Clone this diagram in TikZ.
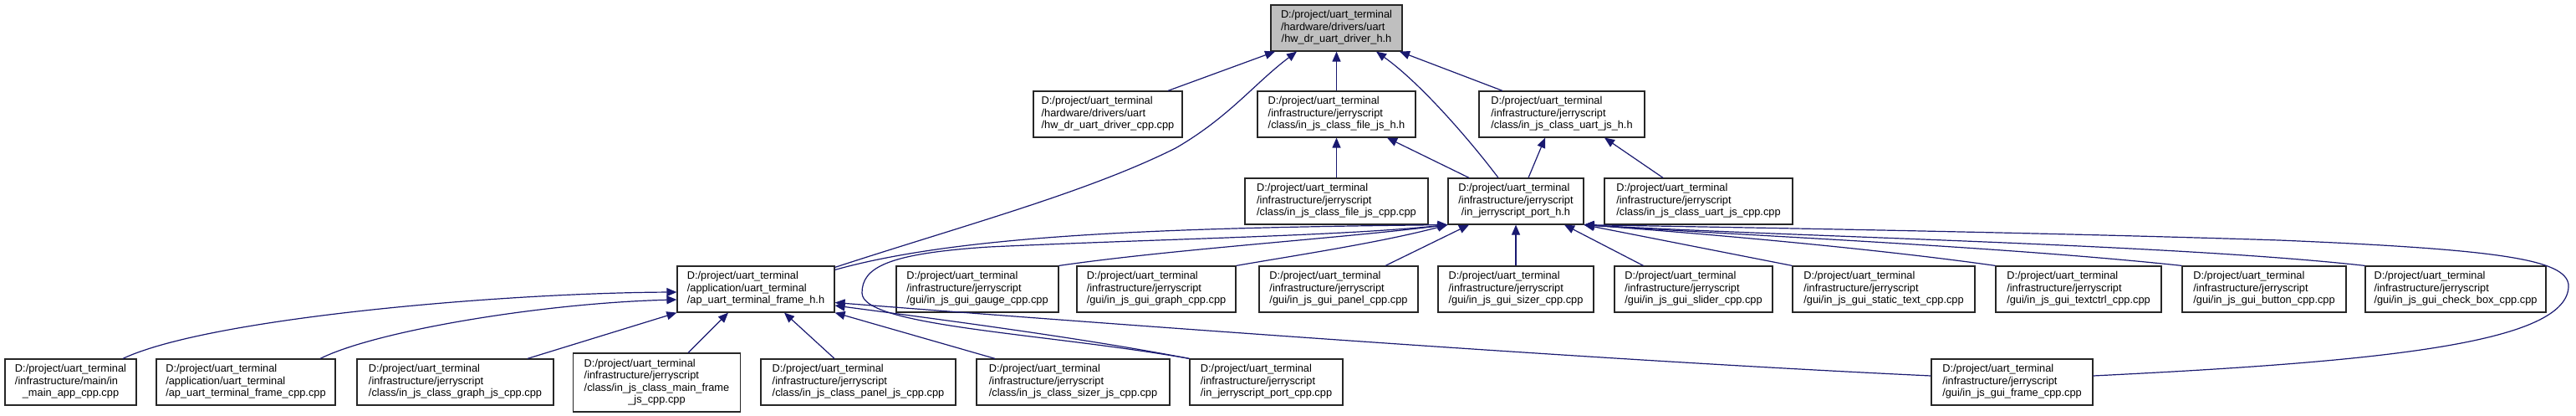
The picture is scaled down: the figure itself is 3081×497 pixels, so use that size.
\documentclass[tikz,border=0pt]{standalone}
\usepackage{fontspec}
\setmainfont{Liberation Sans}
\usetikzlibrary{calc,arrows.meta}
\definecolor{mblue}{RGB}{25,25,112}
\definecolor{rootgray}{RGB}{191,191,191}
\newcommand{\lblc}[3]{\begin{tabular}{@{}l@{}}#1\\#2\\\multicolumn{1}{@{}c@{}}{#3}\end{tabular}}
\newcommand{\lblf}[4]{\begin{tabular}{@{}l@{}}#1\\#2\\#3\\\multicolumn{1}{@{}c@{}}{#4}\end{tabular}}
\newcommand{\pjut}{D:/project/uart\_terminal}
\newcommand{\infjs}{/infrastructure/jerryscript}
\tikzset{
  box/.style={draw=black!85, line width=0.6pt, fill=white, minimum height=27.5pt,
    inner sep=0pt, font=\fontsize{6.4}{7.25}\selectfont},
  bw/.style={minimum width=#1*0.5pt},
  edge/.style={draw=mblue, line width=0.6pt, -{Triangle[length=6pt,width=5pt]}},
}
\begin{document}
\begin{tikzpicture}[x=0.5pt,y=-0.5pt]
\useasboundingbox[fill=white] (0,0) rectangle (3081,497);
% row 1
\node[box,bw=157,fill=rootgray] (root) at (1598.5,33.5) {\lblc{\pjut}{/hardware/drivers/uart}{/hw\_dr\_uart\_driver\_h.h}};
% row 2
\node[box,bw=178] (hwcpp) at (1325,136.5) {\lblc{\pjut}{/hardware/drivers/uart}{/hw\_dr\_uart\_driver\_cpp.cpp}};
\node[box,bw=189] (filejsh) at (1598.5,136.5) {\lblc{\pjut}{\infjs}{/class/in\_js\_class\_file\_js\_h.h}};
\node[box,bw=198] (uartjsh) at (1868,136.5) {\lblc{\pjut}{\infjs}{/class/in\_js\_class\_uart\_js\_h.h}};
% row 3
\node[box,bw=219] (filejscpp) at (1598.5,240.5) {\lblc{\pjut}{\infjs}{/class/in\_js\_class\_file\_js\_cpp.cpp}};
\node[box,bw=162] (porth) at (1813,240.5) {\lblc{\pjut}{\infjs}{/in\_jerryscript\_port\_h.h}};
\node[box,bw=225] (uartjscpp) at (2031.5,240.5) {\lblc{\pjut}{\infjs}{/class/in\_js\_class\_uart\_js\_cpp.cpp}};
% row 4
\node[box,bw=188] (apframeh) at (904,345.5) {\lblc{\pjut}{/application/uart\_terminal}{/ap\_uart\_terminal\_frame\_h.h}};
\node[box,bw=194] (gauge) at (1169,345.5) {\lblc{\pjut}{\infjs}{/gui/in\_js\_gui\_gauge\_cpp.cpp}};
\node[box,bw=190] (graph) at (1383,345.5) {\lblc{\pjut}{\infjs}{/gui/in\_js\_gui\_graph\_cpp.cpp}};
\node[box,bw=190] (panel) at (1601,345.5) {\lblc{\pjut}{\infjs}{/gui/in\_js\_gui\_panel\_cpp.cpp}};
\node[box,bw=186] (sizer) at (1813,345.5) {\lblc{\pjut}{\infjs}{/gui/in\_js\_gui\_sizer\_cpp.cpp}};
\node[box,bw=189] (slider) at (2025.5,345.5) {\lblc{\pjut}{\infjs}{/gui/in\_js\_gui\_slider\_cpp.cpp}};
\node[box,bw=218] (statictext) at (2253,345.5) {\lblc{\pjut}{\infjs}{/gui/in\_js\_gui\_static\_text\_cpp.cpp}};
\node[box,bw=198] (textctrl) at (2486,345.5) {\lblc{\pjut}{\infjs}{/gui/in\_js\_gui\_textctrl\_cpp.cpp}};
\node[box,bw=196] (button) at (2708,345.5) {\lblc{\pjut}{\infjs}{/gui/in\_js\_gui\_button\_cpp.cpp}};
\node[box,bw=216] (checkbox) at (2937,345.5) {\lblc{\pjut}{\infjs}{/gui/in\_js\_gui\_check\_box\_cpp.cpp}};
% row 5
\node[box,bw=157] (mainapp) at (84.5,456.5) {\lblc{\pjut}{/infrastructure/main/in}{\_main\_app\_cpp.cpp}};
\node[box,bw=214] (apframecpp) at (294,456.5) {\lblc{\pjut}{/application/uart\_terminal}{/ap\_uart\_terminal\_frame\_cpp.cpp}};
\node[box,bw=235] (graphjs) at (544.5,456.5) {\lblc{\pjut}{\infjs}{/class/in\_js\_class\_graph\_js\_cpp.cpp}};
\node[box,bw=200,minimum height=35pt] (mainframejs) at (785.5,457) {\lblf{\pjut}{\infjs}{/class/in\_js\_class\_main\_frame}{\_js\_cpp.cpp}};
\node[box,bw=233] (paneljs) at (1026.5,456.5) {\lblc{\pjut}{\infjs}{/class/in\_js\_class\_panel\_js\_cpp.cpp}};
\node[box,bw=231] (sizerjs) at (1283.5,456.5) {\lblc{\pjut}{\infjs}{/class/in\_js\_class\_sizer\_js\_cpp.cpp}};
\node[box,bw=183] (portcpp) at (1514.5,456.5) {\lblc{\pjut}{\infjs}{/in\_jerryscript\_port\_cpp.cpp}};
\node[box,bw=193] (guiframe) at (2406.5,456.5) {\lblc{\pjut}{\infjs}{/gui/in\_js\_gui\_frame\_cpp.cpp}};
% edges into root
\draw[edge] ($(hwcpp.north)+(72,0)$) -- ($(root.south)+(-73.5,0)$);
\draw[edge] ($(apframeh.north east)+(0,2)$) .. controls (1150,270) and (1300,230) .. (1406,177)
  .. controls (1470,140) and (1500,100) .. ($(root.south)+(-47.5,0)$);
\draw[edge] (filejsh.north) -- (root.south);
\draw[edge] ($(porth.north)+(-21,0)$) .. controls (1760,170) and (1700,100) .. ($(root.south)+(47.5,0)$);
\draw[edge] ($(uartjsh.north)+(-71,0)$) -- ($(root.south)+(75.5,0)$);
% edges into class headers
\draw[edge] (filejscpp.north) -- (filejsh.south);
\draw[edge] ($(porth.north)+(-56,0)$) -- ($(filejsh.south)+(60.5,0)$);
\draw[edge] ($(porth.north)+(15,0)$) -- ($(uartjsh.south)+(-20,0)$);
\draw[edge] ($(uartjscpp.north)+(-42.5,0)$) -- ($(uartjsh.south)+(51,0)$);
% edges into port_h (left)
\draw[edge] ($(apframeh.north east)+(0,5)$) .. controls (1150,280) and (1400,272) .. (porth.south west);
\draw[edge] (gauge.north east) .. controls (1400,298) and (1600,285) .. (porth.south west);
\draw[edge] (graph.north east) .. controls (1550,305) and (1650,290) .. (porth.south west);
\draw[edge] (portcpp.north west) .. controls (1250,398) and (1031,390) .. (1031,350)
  .. controls (1031,320) and (1060,303) .. (1183,295)
  .. controls (1400,285) and (1600,282) .. (porth.south west);
\draw[edge] ($(panel.north)+(56,0)$) -- ($(porth.south)+(-56,0)$);
\draw[edge] (sizer.north) -- (porth.south);
\draw[edge] ($(slider.north)+(-60,0)$) -- ($(porth.south)+(58,0)$);
% edges into port_h (right)
\draw[edge] (statictext.north west) -- (porth.south east);
\draw[edge] (textctrl.north west) .. controls (2250,298) and (2050,280) .. (porth.south east);
\draw[edge] (button.north west) .. controls (2400,295) and (2100,282) .. (porth.south east);
\draw[edge] (checkbox.north west) .. controls (2600,292) and (2150,283) .. (porth.south east);
\draw[edge] ($(guiframe.east)+(0,-7.5)$) .. controls (2850,432) and (3075,410) .. (3072,340)
  .. controls (3068,310) and (2990,298) .. (2726,287)
  .. controls (2450,278) and (2100,272) .. (porth.south east);
% edges into ap_uart_terminal_frame_h
\draw[edge] ($(mainapp.north)+(62.5,0)$) .. controls (250,380) and (600,350) .. ($(apframeh.west)+(0,3.5)$);
\draw[edge] ($(apframecpp.north)+(89,0)$) .. controls (450,395) and (650,362) .. ($(apframeh.west)+(0,12.5)$);
\draw[edge] ($(graphjs.north)+(86.5,0)$) -- (apframeh.south west);
\draw[edge] ($(mainframejs.north)+(37.5,0)$) -- ($(apframeh.south)+(-33,0)$);
\draw[edge] ($(paneljs.north)+(-28.5,0)$) -- ($(apframeh.south)+(34,0)$);
\draw[edge] ($(sizerjs.north)+(-93.5,0)$) -- (apframeh.south east);
\draw[edge] (portcpp.north west) .. controls (1300,405) and (1150,385) .. ($(apframeh.east)+(0,19.5)$);
\draw[edge] ($(guiframe.west)+(0,-7.5)$) .. controls (1900,430) and (1300,385) .. ($(apframeh.east)+(0,16)$);
\end{tikzpicture}
\end{document}
